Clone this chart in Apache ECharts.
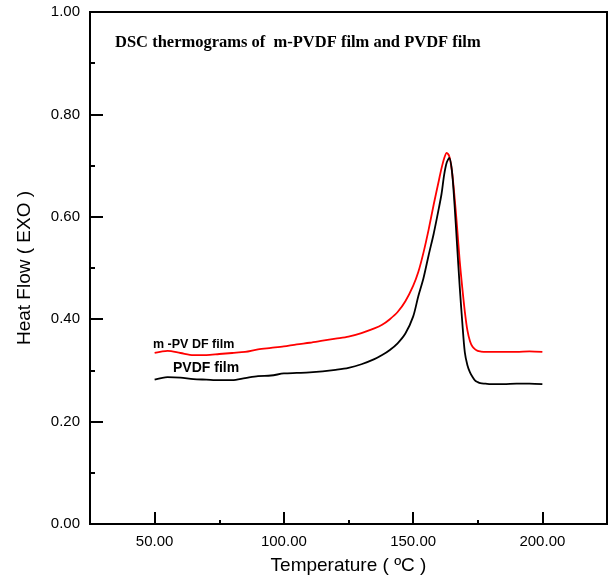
<!DOCTYPE html>
<html>
<head>
<meta charset="utf-8">
<script src="https://cdn.jsdelivr.net/npm/echarts@6/dist/echarts.min.js"></script>
<style>
  html, body { margin: 0; padding: 0; background: #fff; }
  #chart { width: 614px; height: 580px; }
</style>
</head>
<body>
<div id="chart"></div>
<script>
// temperature (ºC) sampled along both curves
const temperature = [50, 55, 60, 65, 70, 75, 80, 85, 90, 95, 100, 105, 110, 115, 120, 125, 130, 135,
  138, 141, 144, 147, 150, 152, 154, 156, 158, 160, 161, 162, 163, 164, 165, 166, 167, 168, 169,
  170, 171, 172, 173, 174, 175, 176, 178, 180, 185, 190, 195, 200]

// m-PVDF film (red)
const mPvdfFlow = [0.334, 0.338, 0.334, 0.330, 0.330, 0.332, 0.334, 0.336, 0.341, 0.344, 0.347, 0.351,
  0.354, 0.358, 0.362, 0.366, 0.373, 0.382, 0.389, 0.400, 0.414, 0.435, 0.465, 0.492, 0.530, 0.575,
  0.625, 0.672, 0.695, 0.714, 0.725, 0.718, 0.690, 0.640, 0.580, 0.515, 0.462, 0.415, 0.378, 0.357,
  0.346, 0.341, 0.338, 0.337, 0.336, 0.336, 0.336, 0.336, 0.337, 0.336]

// PVDF film (black)
const pvdfFlow = [0.282, 0.287, 0.286, 0.283, 0.282, 0.281, 0.281, 0.285, 0.289, 0.290, 0.294, 0.295,
  0.296, 0.298, 0.301, 0.305, 0.312, 0.322, 0.330, 0.340, 0.353, 0.372, 0.405, 0.445, 0.480, 0.525,
  0.568, 0.618, 0.645, 0.682, 0.706, 0.715, 0.690, 0.625, 0.545, 0.465, 0.395, 0.335, 0.310, 0.296,
  0.287, 0.280, 0.277, 0.275, 0.274, 0.273, 0.273, 0.274, 0.274, 0.273]

const majorTemp = [50, 100, 150, 200]
const minorTemp = [75, 125, 175]

const chart = echarts.init(document.getElementById('chart'))

const option = {
  animation: false,
  backgroundColor: '#fff',
  textStyle: { fontFamily: 'Liberation Sans, Arial, sans-serif' },
  title: {
    text: 'DSC thermograms of  m-PVDF film and PVDF film',
    left: 110,
    top: 29,
    textStyle: {
      fontFamily: 'Liberation Serif, Times New Roman, serif',
      fontWeight: 'bold',
      fontSize: 16.5,
      color: '#000'
    }
  },
  grid: {
    left: 90,
    right: 7,
    top: 12,
    bottom: 52,
    show: true,
    borderColor: '#000',
    borderWidth: 2
  },
  xAxis: [
    {
      type: 'value',
      min: 25,
      max: 225,
      name: 'Temperature ( ºC )',
      nameLocation: 'middle',
      nameGap: 32,
      nameTextStyle: { fontSize: 19, color: '#000' },
      axisLine: { show: true, lineStyle: { color: '#000', width: 2 } },
      axisTick: { inside: true, length: 12, lineStyle: { color: '#000', width: 2 }, customValues: majorTemp },
      axisLabel: {
        customValues: majorTemp,
        fontSize: 15,
        color: '#000',
        margin: 10,
        formatter: v => v.toFixed(2)
      },
      splitLine: { show: false }
    },
    {
      type: 'value',
      min: 25,
      max: 225,
      position: 'bottom',
      axisLine: { show: false },
      axisTick: { inside: true, length: 4, lineStyle: { color: '#000', width: 2 }, customValues: minorTemp },
      axisLabel: { show: false },
      splitLine: { show: false }
    }
  ],
  yAxis: {
    type: 'value',
    min: 0,
    max: 1,
    interval: 0.2,
    name: 'Heat Flow ( EXO )',
    nameLocation: 'middle',
    nameGap: 56,
    nameTextStyle: { fontSize: 19, color: '#000' },
    axisLine: { show: true, lineStyle: { color: '#000', width: 2 } },
    axisTick: { inside: true, length: 13, lineStyle: { color: '#000', width: 2 } },
    minorTick: { show: true, splitNumber: 2, length: 5, lineStyle: { color: '#000', width: 2 } },
    axisLabel: { fontSize: 15, color: '#000', margin: 10, formatter: v => v.toFixed(2) },
    splitLine: { show: false }
  },
  graphic: [
    {
      type: 'text',
      left: 153,
      top: 338,
      style: { text: 'm -PV DF film', font: 'bold 12.5px "Liberation Sans", Arial, sans-serif', fill: '#000' }
    },
    {
      type: 'text',
      left: 173,
      top: 361,
      style: { text: 'PVDF film', font: 'bold 14px "Liberation Sans", Arial, sans-serif', fill: '#000' }
    }
  ],
  series: [
    {
      name: 'm-PVDF film',
      type: 'line',
      xAxisIndex: 0,
      smooth: 0.3,
      showSymbol: false,
      lineStyle: { color: '#ff0000', width: 1.8 },
      data: temperature.map((t, i) => [t, mPvdfFlow[i]])
    },
    {
      name: 'PVDF film',
      type: 'line',
      xAxisIndex: 0,
      smooth: 0.3,
      showSymbol: false,
      lineStyle: { color: '#000', width: 1.8 },
      data: temperature.map((t, i) => [t, pvdfFlow[i]])
    }
  ]
}

chart.setOption(option)
</script>
</body>
</html>
